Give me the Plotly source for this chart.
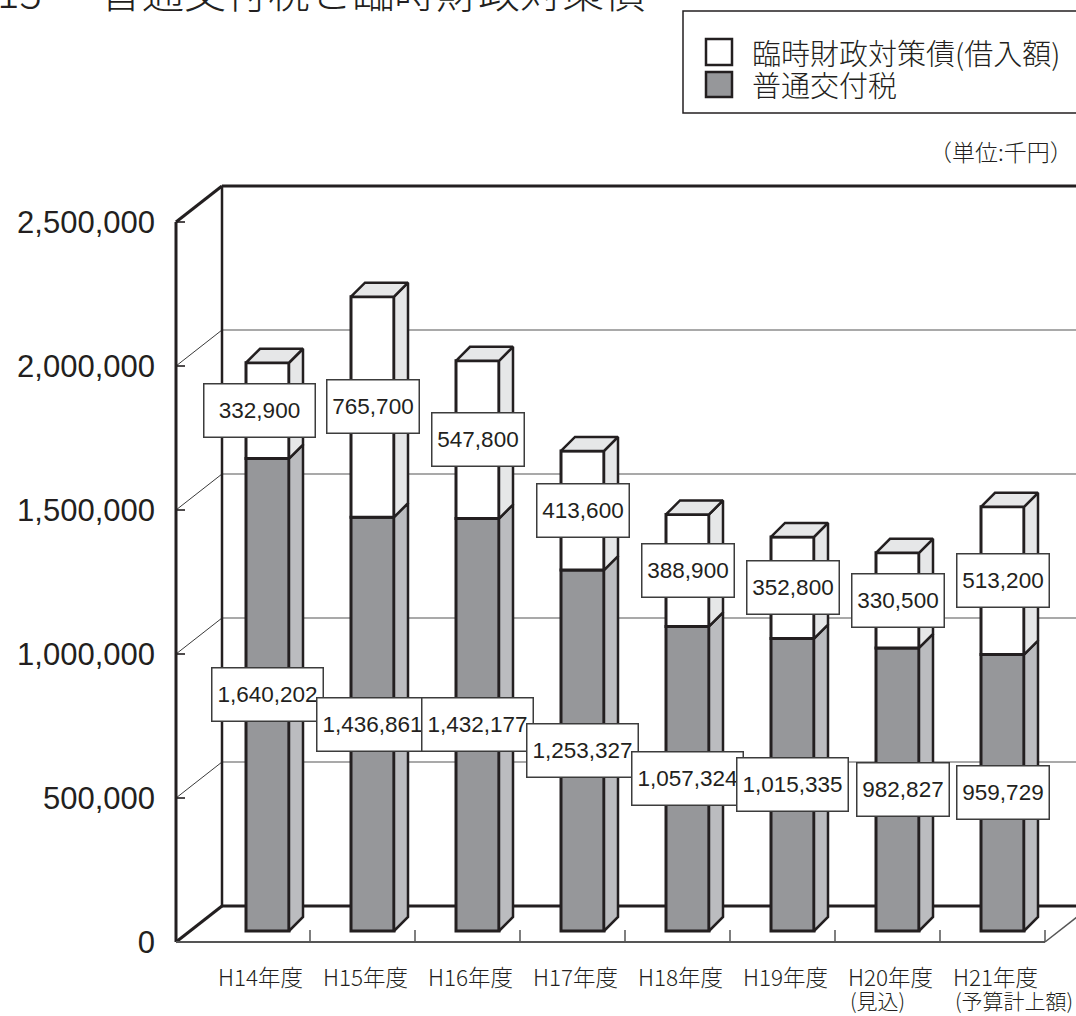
import plotly.graph_objects as go

# ---- data (千円) ----
years = ["H14年度", "H15年度", "H16年度", "H17年度", "H18年度", "H19年度", "H20年度", "H21年度"]
year_notes = ["", "", "", "", "", "", "(見込)", "(予算計上額)"]
grant = [1640202, 1436861, 1432177, 1253327, 1057324, 1015335, 982827, 959729]   # 普通交付税
bond = [332900, 765700, 547800, 413600, 388900, 352800, 330500, 513200]          # 臨時財政対策債
y_ticks = [0, 500000, 1000000, 1500000, 2000000, 2500000]

# ---- page / plot geometry (pixels) ----
W, H = 1076, 1016
PL, PR, PT, PB = 160, 1076, 150, 952
X0PX = 257.5          # first category centre on the front edge
XSTEP = 105.0         # pixels per category
ZERO_PX = 942         # front edge baseline
VPP = 1e6 / 288.0     # value units per pixel


def xd(px):
    return (px - X0PX) / XSTEP


def xp(px):
    return (px - PL) / (PR - PL)


def yp(py):
    return (PB - py) / (PB - PT)


# oblique depth of walls and bars
WDX, WDY = 46 / XSTEP, 36 * VPP       # floor / wall depth
BOX, BOY = 10 / XSTEP, 11 * VPP       # bar front plane offset
BDX, BDY = 14 / XSTEP, 14 * VPP       # bar depth
BW = 43 / XSTEP                       # bar width

INK = "#231f20"
GRANT_FACE = "#96979a"
GRANT_SIDE = "#bbbcbf"
BOND_FACE = "#ffffff"
BOND_SIDE = "#e6e7e8"
NUM_FONT = "Liberation Sans, Arial, sans-serif"
JP_FONT = "Noto Sans CJK JP, Noto Sans, sans-serif"

n = len(years)
xs = [i + BOX for i in range(n)]
grant_base = [BOY] * n
bond_base = [BOY + g for g in grant]
tops = [BOY + g + b for g, b in zip(grant, bond)]

fig = go.Figure()

# front faces
fig.add_trace(go.Bar(x=xs, y=grant, base=grant_base, width=BW, name="普通交付税",
                     marker=dict(color=GRANT_FACE, line=dict(color=INK, width=3)),
                     hoverinfo="skip", showlegend=False))
fig.add_trace(go.Bar(x=xs, y=bond, base=bond_base, width=BW, name="臨時財政対策債(借入額)",
                     marker=dict(color=BOND_FACE, line=dict(color=INK, width=3)),
                     hoverinfo="skip", showlegend=False))


def side_faces(lo_list, hi_list):
    px, py = [], []
    for x, lo, hi in zip(xs, lo_list, hi_list):
        xr = x + BW / 2
        px += [xr, xr + BDX, xr + BDX, xr, xr, None]
        py += [lo, lo + BDY, hi + BDY, hi, lo, None]
    return px, py


gx, gy = side_faces(grant_base, bond_base)
fig.add_trace(go.Scatter(x=gx, y=gy, mode="lines", fill="toself", fillcolor=GRANT_SIDE,
                         line=dict(color=INK, width=2.5), hoverinfo="skip", showlegend=False))
bx, by = side_faces(bond_base, tops)
fig.add_trace(go.Scatter(x=bx, y=by, mode="lines", fill="toself", fillcolor=BOND_SIDE,
                         line=dict(color=INK, width=2.5), hoverinfo="skip", showlegend=False))

# top faces
tx, ty = [], []
for x, t in zip(xs, tops):
    xl, xr = x - BW / 2, x + BW / 2
    tx += [xl, xl + BDX, xr + BDX, xr, xl, None]
    ty += [t, t + BDY, t + BDY, t, t, None]
fig.add_trace(go.Scatter(x=tx, y=ty, mode="lines", fill="toself", fillcolor=BOND_SIDE,
                         line=dict(color=INK, width=2.5), hoverinfo="skip", showlegend=False))


# ---- walls, floor and gridlines ----
def seg(x0, y0, x1, y1, color, width):
    fig.add_shape(type="line", xref="x", yref="y", x0=x0, y0=y0, x1=x1, y1=y1,
                  line=dict(color=color, width=width), layer="below")


FX = xd(176)
BX = FX + WDX
RX = xd(PR) + 0.5
TOPV = y_ticks[-1]
for v in y_ticks[1:-1]:
    seg(FX, v, BX, v + WDY, "#3a3a3a", 1)
    seg(BX, v + WDY, RX, v + WDY, "#8c8c8c", 1.6)
for v in y_ticks:
    seg(FX, v, FX + 9 / XSTEP, v, INK, 1.6)
seg(BX, WDY, BX, TOPV + WDY, INK, 2.5)
seg(BX, TOPV + WDY, RX, TOPV + WDY, INK, 3)
seg(FX, TOPV, BX, TOPV + WDY, INK, 3)
seg(FX, 0, FX, TOPV, INK, 3)
seg(FX, 0, BX, WDY, INK, 3)
seg(BX, WDY, RX, WDY, INK, 3)
seg(FX, 0, n - 0.5, 0, "#555555", 2)
seg(n - 0.5, 0, n - 0.5 + WDX, WDY, "#555555", 1.5)
for k in range(n):
    seg(k + 0.5, 0, k + 0.5, 12 * VPP, "#555555", 1.5)

# ---- value labels ----
BOND_SHIFT = [-8.5, 0, 0, 0, 0, 0, 0, 0]
GRANT_SHIFT = [0, 0, 0, 0, 0, 0, 5.5, 0]
BOND_WIDE = [True, False, False, False, False, False, False, False]


def value_box(x, y, value, shift, wide):
    text = f"{value:,}"
    fig.add_annotation(x=x, y=y, xref="x", yref="y", text=text, showarrow=False,
                       xshift=shift, width=110 if wide else 91, height=52,
                       xanchor="center", yanchor="middle", align="center",
                       bgcolor="white", bordercolor="#3c3c3c", borderwidth=1.5, borderpad=0,
                       font=dict(family=NUM_FONT, size=22.5, color=INK))


for i in range(n):
    value_box(xs[i], bond_base[i] + bond[i] / 2, bond[i], BOND_SHIFT[i],
              BOND_WIDE[i] or len(f"{bond[i]:,}") > 7)
for i in range(n):
    value_box(xs[i], grant_base[i] + grant[i] / 2, grant[i], GRANT_SHIFT[i],
              len(f"{grant[i]:,}") > 7)

# ---- category labels ----
for i in range(n):
    fig.add_annotation(x=i, y=yp(976), xref="x", yref="paper", text=years[i],
                       showarrow=False, xshift=3, xanchor="center", yanchor="middle",
                       font=dict(family=JP_FONT, size=22.5, color=INK, weight=300))
    if year_notes[i]:
        fig.add_annotation(x=i, y=yp(1000), xref="x", yref="paper", text=year_notes[i],
                           showarrow=False, xshift=3 - 43, xanchor="left", yanchor="middle",
                           font=dict(family=JP_FONT, size=21, color=INK, weight=300))

# ---- legend box ----
fig.add_shape(type="rect", xref="paper", yref="paper", x0=xp(683), y0=yp(113), x1=xp(1100), y1=yp(11),
              line=dict(color=INK, width=1.5), fillcolor="white")
for (y0, y1, col, label, yc) in [(39, 65, BOND_FACE, "臨時財政対策債(借入額)", 52),
                                 (72, 97, GRANT_FACE, "普通交付税", 84.5)]:
    fig.add_shape(type="rect", xref="paper", yref="paper", x0=xp(706), y0=yp(y1), x1=xp(732), y1=yp(y0),
                  line=dict(color=INK, width=2.5), fillcolor=col)
    fig.add_annotation(x=xp(750), y=yp(yc), xref="paper", yref="paper", text=label,
                       showarrow=False, xanchor="left", yanchor="middle",
                       font=dict(family=JP_FONT, size=29, color=INK, weight=300))

fig.add_annotation(x=xp(1075), y=yp(151), xref="paper", yref="paper", text="（単位:千円）",
                   showarrow=False, xanchor="right", yanchor="middle",
                   font=dict(family=JP_FONT, size=23, color=INK, weight=300))

# ---- title ----
fig.add_annotation(x=xp(44), y=yp(22), xref="paper", yref="paper", text="13",
                   showarrow=False, xanchor="right", yanchor="bottom",
                   font=dict(family=JP_FONT, size=42, color=INK, weight=300))
fig.add_annotation(x=xp(98), y=yp(22), xref="paper", yref="paper", text="普通交付税と臨時財政対策債",
                   showarrow=False, xanchor="left", yanchor="bottom",
                   font=dict(family=JP_FONT, size=42, color=INK, weight=300))

fig.update_layout(
    width=W, height=H,
    margin=dict(l=PL, r=W - PR, t=PT, b=H - PB, pad=0),
    paper_bgcolor="white", plot_bgcolor="white",
    barmode="overlay", showlegend=False,
    xaxis=dict(range=[xd(PL), xd(PR)], showgrid=False, zeroline=False, showline=False,
               showticklabels=False, ticks="", fixedrange=True),
    yaxis=dict(range=[(ZERO_PX - PB) * VPP, (ZERO_PX - PT) * VPP], tickvals=y_ticks,
               tickformat=",", showgrid=False, zeroline=False, showline=False, ticks="",
               ticklabelstandoff=4,
               tickfont=dict(family="Liberation Sans, Arial, sans-serif", size=31, color=INK),
               fixedrange=True),
)

fig.write_html("out.html", config={"displayModeBar": False})
